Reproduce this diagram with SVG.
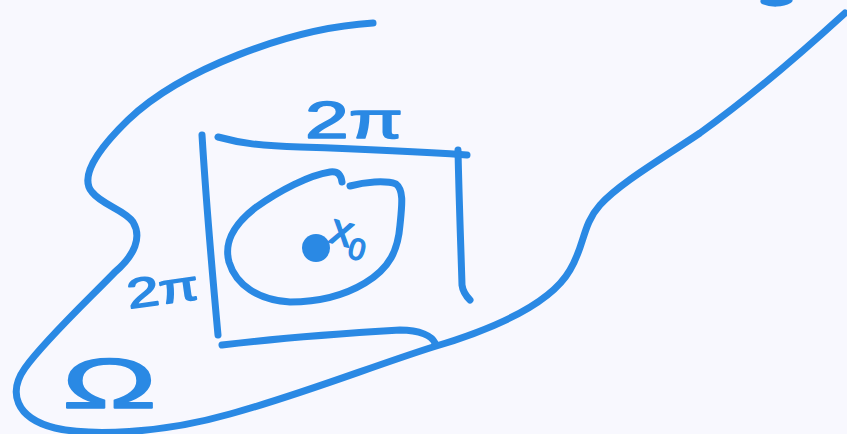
<svg xmlns="http://www.w3.org/2000/svg" width="847" height="434" viewBox="0 0 847 434">
<style>
.s{fill:none;stroke:#2a89e4;stroke-width:7;stroke-linecap:round;stroke-linejoin:round}
.t{fill:#2a89e4;stroke:#2a89e4;stroke-width:1.5;stroke-linejoin:round;font-family:"Liberation Sans",Arial,sans-serif}
</style>
<rect width="847" height="434" fill="#f8f8fe"/>
<g id="omega-region">
<path class="s" d="M373,23 C290,28 180,70 128,120 C95,152 80,178 92,192 C102,205 125,210 133,222 C142,237 135,255 115,272 C90,298 45,340 25,368 C8,392 15,418 55,428 C90,436 160,434 230,414 C300,395 370,367 433,347 C490,330 550,305 570,270 C585,245 582,225 600,205 C620,183 660,160 700,133 C760,90 810,45 845,13"/>
<path class="s" d="M764,1 C771,4 782,4 789,0"/>
<text class="t" x="62" y="408" font-size="70" stroke-width="0" textLength="95" lengthAdjust="spacingAndGlyphs">Ω</text>
</g>
<g id="square">
<path class="s" d="M202,135 C206,200 212,270 218,335"/>
<path class="s" d="M218,137 C240,143 260,146 300,147 C360,149 410,151 467,155"/>
<path class="s" d="M458,150 C459,200 461,250 462,285 C463,293 467,297 470,300"/>
<path class="s" d="M222,345 C280,338 350,333 400,330 C420,330 432,336 435,343"/>
<text class="t" x="305" y="138" font-size="52" textLength="98" lengthAdjust="spacingAndGlyphs">2π</text>
<text class="t" x="126" y="304" font-size="42" textLength="72" lengthAdjust="spacingAndGlyphs" transform="rotate(-8 162 285)">2π</text>
</g>
<g id="inner-set">
<path class="s" d="M350,186 C365,182 385,180 396,184 C404,190 402,205 400,225 C398,250 390,268 365,283 C345,295 320,302 290,302 C258,300 236,285 229,262 C224,243 232,226 255,208 C280,190 310,175 330,172 C338,171 341,175 342,182"/>
</g>
<g id="x0">
<circle cx="316" cy="248" r="14" fill="#2a89e4"/>
<text class="t" x="330" y="246" font-size="44" transform="rotate(15 345 235)">x<tspan font-size="30" dy="10">0</tspan></text>
</g>
</svg>
